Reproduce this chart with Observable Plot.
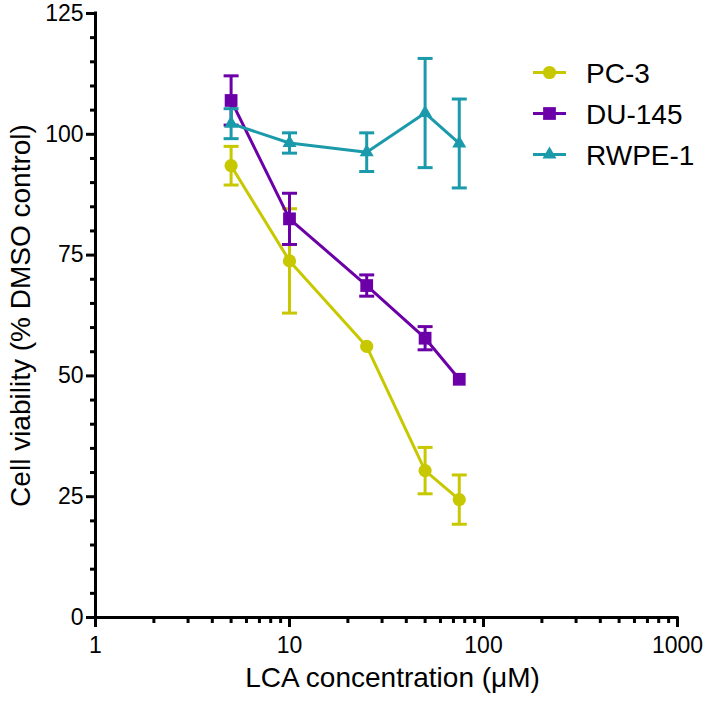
<!DOCTYPE html>
<html>
<head>
<meta charset="utf-8">
<script src="https://cdn.jsdelivr.net/npm/d3@7"></script>
<script src="https://cdn.jsdelivr.net/npm/@observablehq/plot@0.6"></script>
<style>
  html, body { margin: 0; padding: 0; background: #fff; }
  #chart { width: 706px; height: 702px; }
</style>
</head>
<body>
<div id="chart"></div>
<script>
// ---- data ----
const concentrations = [5, 10, 25, 50, 75];
const pc3 = [93.5, 73.8, 56.1, 30.4, 24.4];
const pc3Err = [4.0, 10.8, 0, 4.8, 5.1];
const du145 = [107.0, 82.5, 68.7, 57.8, 49.3];
const du145Err = [5.1, 5.3, 2.2, 2.4, 0];
const rwpe1 = [102.2, 98.2, 96.3, 104.4, 98.1];
const rwpe1Err = [3.1, 2.1, 4.0, 11.3, 9.2];

const seriesNames = ["PC-3", "DU-145", "RWPE-1"];
const seriesColors = ["#c8c800", "#6c00a8", "#1a9aaa"];
const seriesSymbols = ["circle", "square", "triangle"];
const seriesR = [6.6, 7.2, 5.2];

const xMajorTicks = [1, 10, 100, 1000];
const xMinorTicks = [2,3,4,5,6,7,8,9,20,30,40,50,60,70,80,90,200,300,400,500,600,700,800,900];
const yMajorTicks = [0, 25, 50, 75, 100, 125];
const yMinorTicks = d3.range(0, 126, 5).filter(v => v % 25 !== 0);

const xTitle = "LCA concentration (\u03bcM)";
const yTitle = "Cell viability (% DMSO control)";

// ---- tables ----
const values = [pc3, du145, rwpe1];
const errors = [pc3Err, du145Err, rwpe1Err];
const seriesRows = seriesNames.map((name, s) =>
  concentrations.map((c, i) => ({
    series: name, conc: c, value: values[s][i], err: errors[s][i],
    lo: values[s][i] - errors[s][i], hi: values[s][i] + errors[s][i]
  }))
);

const capSymbol = {
  draw(ctx, size) {
    const w = Math.sqrt(size / Math.PI);
    ctx.moveTo(-w, 0);
    ctx.lineTo(w, 0);
  }
};

const FONT = "Arial, 'Liberation Sans', Helvetica, sans-serif";

const seriesMarks = seriesRows.flatMap((rows, s) => {
  const withErr = rows.filter(d => d.err > 0);
  return [
    Plot.ruleX(withErr, {x: "conc", y1: "lo", y2: "hi", stroke: seriesColors[s], strokeWidth: 3}),
    Plot.dot(withErr, {x: "conc", y: "lo", symbol: capSymbol, r: 7.5, stroke: seriesColors[s], strokeWidth: 3, fill: "none"}),
    Plot.dot(withErr, {x: "conc", y: "hi", symbol: capSymbol, r: 7.5, stroke: seriesColors[s], strokeWidth: 3, fill: "none"}),
    Plot.line(rows, {x: "conc", y: "value", stroke: seriesColors[s], strokeWidth: 3}),
    Plot.dot(rows, {x: "conc", y: "value", symbol: seriesSymbols[s], r: seriesR[s], fill: seriesColors[s], stroke: "none"})
  ];
});

const chart = Plot.plot({
  width: 706,
  height: 702,
  marginLeft: 95,
  marginRight: 29,
  marginTop: 13,
  marginBottom: 85,
  style: {fontFamily: FONT, background: "#fff", color: "#000", overflow: "visible"},
  x: {type: "log", domain: [1, 1000], label: null},
  y: {domain: [0, 125], label: null},
  marks: [
    Plot.axisY(yMinorTicks, {tickSize: 5, strokeWidth: 3, tickFormat: () => "", label: null}),
    Plot.axisY(yMajorTicks, {tickSize: 9, tickPadding: 3, strokeWidth: 3, fontSize: 23, tickFormat: d => String(d), label: null}),
    Plot.axisX(xMinorTicks, {tickSize: 6, strokeWidth: 3, tickFormat: () => "", label: null}),
    Plot.axisX(xMajorTicks, {tickSize: 10, tickPadding: 9, strokeWidth: 3, fontSize: 23, tickFormat: d => String(d), label: null}),
    Plot.ruleX([1], {y1: 0, y2: 125, strokeWidth: 3, strokeLinecap: "square"}),
    Plot.ruleY([0], {x1: 1, x2: 1000, strokeWidth: 3, strokeLinecap: "square"}),
    Plot.text([xTitle], {frameAnchor: "bottom", textAnchor: "middle", dx: 6, dy: 61, fontSize: 28, lineAnchor: "middle"}),
    Plot.text([yTitle], {frameAnchor: "left", textAnchor: "middle", dx: -74, rotate: -90, fontSize: 28, lineAnchor: "middle"}),
    ...seriesMarks
  ]
});

document.getElementById("chart").appendChild(chart);

// ---- legend (inside the plot area, top right) ----
const svg = d3.select(chart);
const lg = svg.append("g")
  .attr("font-family", FONT)
  .style("font-size", "28px")
  .style("text-anchor", "start");
seriesNames.forEach((name, i) => {
  const cy = 72.5 + i * 41;
  const g = lg.append("g").attr("transform", `translate(0,${cy})`);
  g.append("line").attr("x1", 533).attr("x2", 566).attr("y1", 0).attr("y2", 0)
    .attr("stroke", seriesColors[i]).attr("stroke-width", 3);
  const sym = {circle: d3.symbolCircle, square: d3.symbolSquare, triangle: d3.symbolTriangle}[seriesSymbols[i]];
  g.append("path").attr("transform", "translate(549.5,0)")
    .attr("d", d3.symbol(sym, Math.PI * seriesR[i] * seriesR[i])())
    .attr("fill", seriesColors[i]);
  g.append("text").attr("x", 586).attr("y", 0).attr("dy", "0.36em")
    .attr("fill", "#000").style("text-anchor", "start").text(name);
});
</script>
</body>
</html>
